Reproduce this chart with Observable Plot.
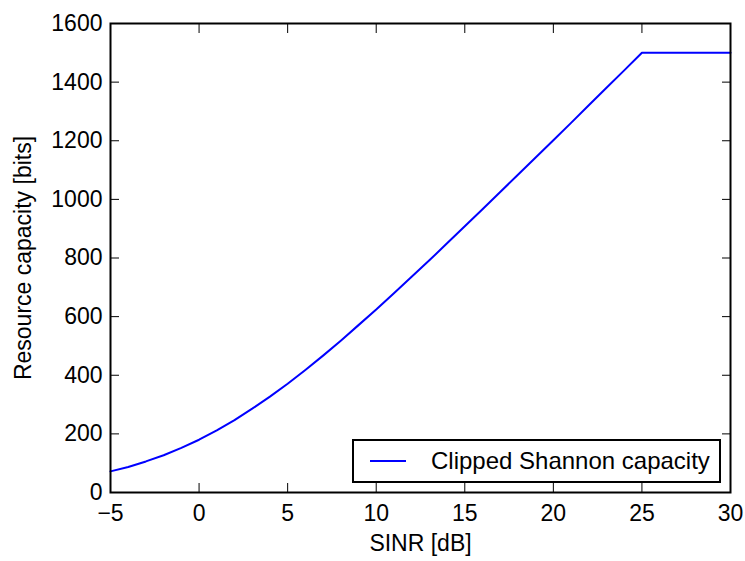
<!DOCTYPE html>
<html>
<head>
<meta charset="utf-8">
<script src="https://cdn.jsdelivr.net/npm/d3@7"></script>
<script src="https://cdn.jsdelivr.net/npm/@observablehq/plot@0.6"></script>
<style>
  html, body { margin: 0; padding: 0; background: #fff; }
  #wrap { position: relative; width: 745px; height: 561px; }
  #legend {
    position: absolute; left: 352px; top: 439px; width: 365px; height: 40px;
    border: 2px solid #000; background: #fff; box-sizing: content-box;
    font-family: "Liberation Sans", Arial, sans-serif; font-size: 24px;
    display: flex; align-items: center;
  }
  #legend .sw { width: 36px; height: 0; border-top: 2px solid #0000ff; margin-left: 16px; margin-right: 25px; }
</style>
</head>
<body>
<div id="wrap"></div>
<script>
// SINR in dB
const sinr = [-5,-4,-3,-2,-1,0,1,2,3,4,5,6,7,8,9,10,11,12,13,14,15,16,17,18,19,20,21,22,23,24,25,30];
// Resource capacity in bits
const capacity = [72,87,106,127,152,180,212,247,286,327,371,418,467,518,571,624,680,736,792,850,908,966,1025,1084,1143,1202,1261,1321,1381,1440,1500,1500];
const seriesName = "Clipped Shannon capacity";
const xTicks = [-5,0,5,10,15,20,25,30];
const yTicks = [0,200,400,600,800,1000,1200,1400,1600];

const data = sinr.map((x, i) => ({x, y: capacity[i]}));
const fs = 23;

const chart = Plot.plot({
  width: 745,
  height: 561,
  marginLeft: 110,
  marginRight: 15,
  marginTop: 23,
  marginBottom: 69,
  style: {fontSize: "24px", fontFamily: "'Liberation Sans', Arial, sans-serif", color: "#000", background: "#fff"},
  x: {domain: [-5, 30]},
  y: {domain: [0, 1600]},
  marks: [
    Plot.line(data, {x: "x", y: "y", stroke: "#0000ff", strokeWidth: 2}),
    Plot.axisX(xTicks, {anchor: "bottom", tickSize: 0, tickPadding: 12, fontSize: fs, label: "SINR [dB]", labelAnchor: "center", labelArrow: "none", labelOffset: 58}),
    Plot.axisX(xTicks, {anchor: "bottom", tickSize: -9, fill: "none", label: null}),
    Plot.axisX(xTicks, {anchor: "top", tickSize: -9, fill: "none", label: null}),
    Plot.axisY(yTicks, {anchor: "left", tickSize: 0, tickPadding: 8, fontSize: fs, tickFormat: d => String(d), label: "Resource capacity [bits]", labelAnchor: "center", labelArrow: "none", labelOffset: 96}),
    Plot.axisY(yTicks, {anchor: "left", tickSize: -9, fill: "none", label: null}),
    Plot.axisY(yTicks, {anchor: "right", tickSize: -9, fill: "none", label: null}),
    Plot.frame({stroke: "#000", strokeWidth: 2})
  ]
});
const wrap = document.getElementById("wrap");
wrap.appendChild(chart);
const leg = document.createElement("div");
leg.id = "legend";
leg.innerHTML = `<span class="sw"></span><span>${seriesName}</span>`;
wrap.appendChild(leg);
</script>
</body>
</html>
